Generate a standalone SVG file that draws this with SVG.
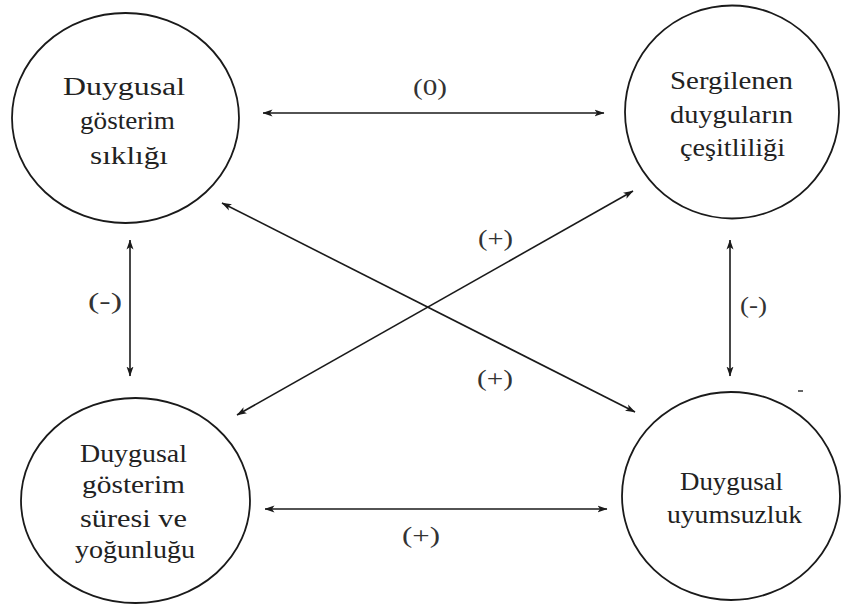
<svg xmlns="http://www.w3.org/2000/svg" width="841" height="606" viewBox="0 0 841 606">
<style>
.node ellipse{fill:none;stroke:#1a1a1a;stroke-width:1.8}
.node text{font-family:"Liberation Serif","Times New Roman",serif;font-size:26px;fill:#222}
.lbl{font-family:"Liberation Serif","Times New Roman",serif;font-size:24px;fill:#333}
#connectors line{stroke:#1a1a1a;stroke-width:1.6;marker-start:url(#ah);marker-end:url(#ah)}
</style>
<defs>
<marker id="ah" viewBox="0 0 10 8" refX="9.5" refY="4" markerWidth="10" markerHeight="8" markerUnits="userSpaceOnUse" orient="auto-start-reverse">
<path d="M0,0.5 L10,4 L0,7.5 L2.5,4 Z" fill="#1a1a1a"/>
</marker>
</defs>
<rect width="841" height="606" fill="#fff"/>
<g id="n1" class="node">
<ellipse cx="125.5" cy="118" rx="113.5" ry="105"/>
<text x="63" y="95" textLength="122" lengthAdjust="spacingAndGlyphs">Duygusal</text>
<text x="80" y="129" textLength="95" lengthAdjust="spacingAndGlyphs">gösterim</text>
<text x="90" y="164" textLength="78" lengthAdjust="spacingAndGlyphs">sıklığı</text>
</g>
<g id="n2" class="node">
<ellipse cx="732" cy="112" rx="107" ry="106.5"/>
<text x="670" y="89" textLength="123" lengthAdjust="spacingAndGlyphs">Sergilenen</text>
<text x="670" y="123" textLength="123" lengthAdjust="spacingAndGlyphs">duyguların</text>
<text x="680" y="156" textLength="105" lengthAdjust="spacingAndGlyphs">çeşitliliği</text>
</g>
<g id="n3" class="node">
<ellipse cx="135.5" cy="500.5" rx="114.5" ry="102.5"/>
<text x="80" y="462" textLength="107" lengthAdjust="spacingAndGlyphs">Duygusal</text>
<text x="82" y="493" textLength="103" lengthAdjust="spacingAndGlyphs">gösterim</text>
<text x="80" y="527" textLength="107" lengthAdjust="spacingAndGlyphs">süresi ve</text>
<text x="75" y="558" textLength="120" lengthAdjust="spacingAndGlyphs">yoğunluğu</text>
</g>
<g id="n4" class="node">
<ellipse cx="731" cy="496" rx="109" ry="104"/>
<text x="680" y="490" textLength="103" lengthAdjust="spacingAndGlyphs">Duygusal</text>
<text x="667" y="523" textLength="135" lengthAdjust="spacingAndGlyphs">uyumsuzluk</text>
</g>
<g id="connectors">
<line x1="263" y1="113" x2="604" y2="113"/>
<line x1="130" y1="240" x2="130" y2="376"/>
<line x1="730" y1="240" x2="730" y2="376"/>
<line x1="265" y1="509" x2="607" y2="509"/>
<line x1="222" y1="203" x2="635" y2="412"/>
<line x1="237" y1="415" x2="633" y2="191"/>
</g>
<g id="labels">
<text class="lbl" x="413" y="95" textLength="34" lengthAdjust="spacingAndGlyphs">(0)</text>
<text class="lbl" x="478" y="246" textLength="35" lengthAdjust="spacingAndGlyphs">(+)</text>
<text class="lbl" x="477" y="386" textLength="36" lengthAdjust="spacingAndGlyphs">(+)</text>
<text class="lbl" x="402" y="543" textLength="38" lengthAdjust="spacingAndGlyphs">(+)</text>
<text class="lbl" x="88" y="309" textLength="34" lengthAdjust="spacingAndGlyphs">(-)</text>
<text class="lbl" x="740" y="313" textLength="27" lengthAdjust="spacingAndGlyphs">(-)</text>
</g>
<line x1="798" y1="391" x2="803" y2="391" stroke="#333" stroke-width="1.5"/>
</svg>
